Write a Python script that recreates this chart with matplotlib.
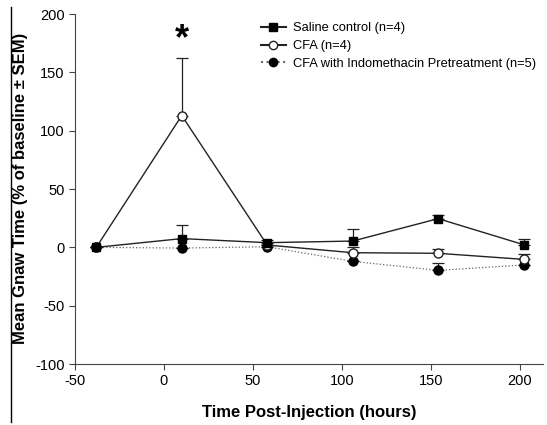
import numpy as np
import matplotlib.pyplot as plt
from matplotlib.lines import Line2D

plt.rcParams['font.family'] = ['Liberation Sans', 'DejaVu Sans']
plt.rcParams['axes.unicode_minus'] = False

# Data
hours = [-38, 10, 58, 106, 154, 202]

saline = [0, 7.5, 4, 5.4, 24.6, 2.3]
saline_sem = [0, 12, 2.5, 10, 3.5, 5]

cfa = [0, 113, 2, -4.6, -5.1, -10.3]
cfa_sem = [0, 49, 0, 4.5, 4, 5]

indo = [0, -0.6, 0.5, -12, -19.7, -15.1]
indo_sem = [0, 0, 0, 0, 6.5, 0]

labels = ["Saline control (n=4)", "CFA (n=4)",
          "CFA with Indomethacin Pretreatment (n=5)"]

fig = plt.figure(figsize=(5.47, 4.25), dpi=100)
ax = fig.add_axes([0.137, 0.1435, 0.856, 0.8235])

c = '#222222'
zeros = np.zeros(len(hours))

ax.errorbar(hours, indo, yerr=[zeros, indo_sem], color='#666666', ls=':', lw=0.9,
            marker='o', ms=6.5, mfc='black', mec='black', ecolor=c, elinewidth=0.9,
            capsize=4, capthick=0.9, zorder=3)
ax.errorbar(hours, cfa, yerr=[zeros, cfa_sem], color=c, ls='-', lw=1.0,
            marker='o', ms=6.5, mfc='white', mec=c, ecolor=c, elinewidth=0.9,
            capsize=4, capthick=0.9, zorder=4)
ax.errorbar(hours, saline, yerr=[zeros, saline_sem], color=c, ls='-', lw=1.0,
            marker='s', ms=6, mfc='black', mec='black', ecolor=c, elinewidth=0.9,
            capsize=4, capthick=0.9, zorder=5)

ax.text(10, 178, '*', ha='center', va='center', fontsize=26, fontweight='bold')

ax.set_xlim(-50, 213)
ax.set_ylim(-100, 200)
ax.set_xticks([-50, 0, 50, 100, 150, 200])
ax.set_yticks([-100, -50, 0, 50, 100, 150, 200])
ax.spines['top'].set_visible(False)
ax.spines['right'].set_visible(False)
for s in ['left', 'bottom']:
    ax.spines[s].set_color('#444444')
ax.tick_params(direction='out', length=4, color='#444444', labelsize=10.5)

ax.set_xlabel('Time Post-Injection (hours)', fontsize=12, fontweight='bold', labelpad=12)
fig.text(0.037, 0.557, 'Mean Gnaw Time (% of baseline \u00b1 SEM)', rotation=90,
         ha='center', va='center', fontsize=12, fontweight='bold')

handles = [
    Line2D([], [], color=c, ls='-', marker='s', ms=5.5, mfc='black', mec='black'),
    Line2D([], [], color=c, ls='-', marker='o', ms=6, mfc='white', mec=c),
    Line2D([], [], color='#666666', ls=':', marker='o', ms=6, mfc='black', mec='black'),
]
fig.legend(handles, labels, loc='upper left', bbox_to_anchor=(0.455, 0.975),
           frameon=False, fontsize=9.3, handlelength=2.0, handletextpad=0.5,
           labelspacing=0.45)

fig.add_artist(Line2D([11 / 547, 11 / 547], [3 / 425, 418 / 425], color='black', lw=1.0))

fig.savefig('out.png', dpi=100)
